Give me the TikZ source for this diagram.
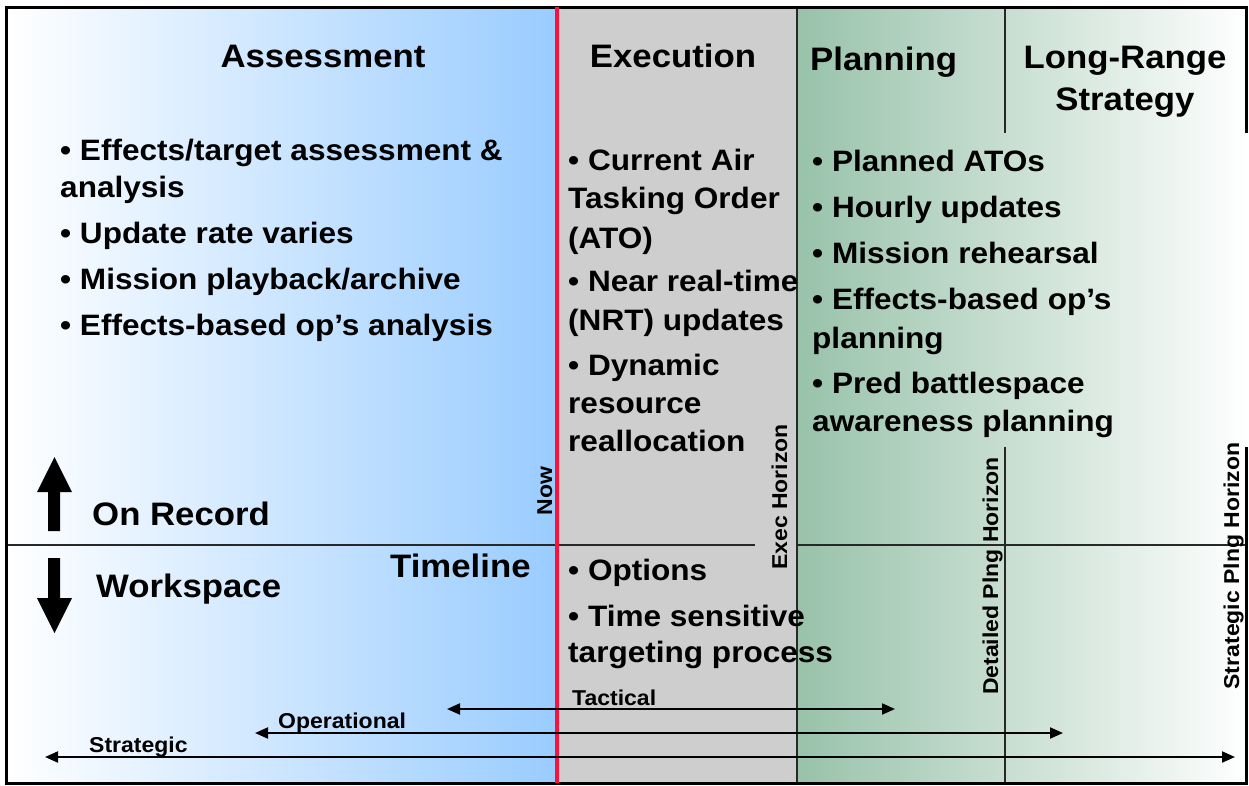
\documentclass[tikz,border=0pt]{standalone}
\usepackage{fontspec}
\setmainfont{Liberation Sans}[FakeStretch=1.07]
\usetikzlibrary{arrows.meta}
\definecolor{assblue}{RGB}{153,204,255}
\definecolor{execgray}{RGB}{206,206,206}
\definecolor{plangreen}{RGB}{152,194,170}
\definecolor{nowred}{RGB}{250,18,60}
\definecolor{linedark}{RGB}{40,40,40}
\tikzset{
  ttl/.style={font=\fontsize{32.5}{36}\selectfont\bfseries, inner sep=0pt},
  bul/.style={font=\fontsize{29.5}{34}\selectfont\bfseries, inner sep=0pt, anchor=base west},
  sml/.style={font=\fontsize{21.5}{24}\selectfont\bfseries, inner sep=0pt},
  vlab/.style={sml, rotate=90, anchor=base},
  rule/.style={draw=linedark, line width=1.8pt},
  frame/.style={draw=black, line width=3pt},
  span/.style={draw=black, line width=2pt, {Triangle[length=13pt,width=11pt]}-{Triangle[length=13pt,width=11pt]}},
}
\begin{document}
\begin{tikzpicture}[x=1pt,y=-1pt]
\useasboundingbox (0,0) rectangle (1249,785);
% backgrounds
\shade[left color=white, right color=assblue] (6,8) rectangle (557,783);
\fill[execgray] (557,8) rectangle (797,783);
\shade[left color=plangreen, right color=white] (797,8) rectangle (1249,783);
% dividing lines
\draw[rule] (797,8) -- (797,783);
\draw[rule] (1005,8) -- (1005,133);
\draw[rule] (1005,447) -- (1005,783);
\draw[rule] (6,545) -- (755,545);
\draw[rule] (797,545) -- (1246,545);
% frame
\draw[frame] (4.5,7) -- (1248,7);
\draw[frame] (6,7) -- (6,784);
\draw[frame] (4.5,783.5) -- (1248,783.5);
\draw[frame] (1246.5,7) -- (1246.5,133);
\draw[frame] (1246.5,447) -- (1246.5,784);
% now line
\draw[draw=nowred, line width=4pt] (557,7) -- (557,783);
% titles
\node[ttl, anchor=base] (tAss) at (323,67) {Assessment};
\node[ttl, anchor=base] (tExe) at (673,67) {Execution};
\node[ttl, anchor=base west] (tPla) at (810,70) {Planning};
\node[ttl, anchor=base] (tLR1) at (1125,68) {Long-Range};
\node[ttl, anchor=base] (tLR2) at (1125,110) {Strategy};
% assessment bullets
\node[bul] (a1) at (60,160) {• Effects/target assessment \&};
\node[bul] (a2) at (60,197) {analysis};
\node[bul] (a3) at (60,243) {• Update rate varies};
\node[bul] (a4) at (60,289) {• Mission playback/archive};
\node[bul] (a5) at (60,335) {• Effects-based op’s analysis};
% execution bullets
\node[bul] (e1) at (568,170) {• Current Air};
\node[bul] (e2) at (568,208) {Tasking Order};
\node[bul] (e3) at (568,248) {(ATO)};
\node[bul] (e4) at (568,291) {• Near real-time};
\node[bul] (e5) at (568,330) {(NRT) updates};
\node[bul] (e6) at (568,375) {• Dynamic};
\node[bul] (e7) at (568,413) {resource};
\node[bul] (e8) at (568,451) {reallocation};
\node[bul] (e9) at (568,580) {• Options};
\node[bul] (e10) at (568,626) {• Time sensitive};
\node[bul] (e11) at (568,662) {targeting process};
% planning bullets
\node[bul] (p1) at (812,171) {• Planned ATOs};
\node[bul] (p2) at (812,217) {• Hourly updates};
\node[bul] (p3) at (812,263) {• Mission rehearsal};
\node[bul] (p4) at (812,309) {• Effects-based op’s};
\node[bul] (p5) at (812,348) {planning};
\node[bul] (p6) at (812,393) {• Pred battlespace};
\node[bul] (p7) at (812,431) {awareness planning};
% record / workspace
\fill[black] (48,531) -- (48,492) -- (37,492) -- (54.5,457) -- (72,492) -- (60,492) -- (60,531) -- cycle;
\fill[black] (48,558) -- (48,598) -- (37,598) -- (54.5,633) -- (72,598) -- (60,598) -- (60,558) -- cycle;
\node[ttl, anchor=base west] (rec) at (92,525) {On Record};
\node[ttl, anchor=base west] (wsp) at (96,597) {Workspace};
\node[ttl, anchor=base west] (tml) at (390,577) {Timeline};
% horizon labels
\node[vlab] (now) at (552,491) {Now};
\node[vlab] (exh) at (787,497) {Exec Horizon};
\node[vlab] (dph) at (998,576) {Detailed Plng Horizon};
\node[vlab] (sph) at (1239,566) {Strategic Plng Horizon};
% spans
\coordinate (tacL) at (447,709);
\coordinate (tacR) at (895,709);
\coordinate (opL) at (255,733);
\coordinate (opR) at (1063,733);
\coordinate (strL) at (45,757);
\coordinate (strR) at (1235,757);
\draw[span] (tacL) -- (tacR);
\draw[span] (opL) -- (opR);
\draw[span] (strL) -- (strR);
\node[sml, anchor=base west] (ltac) at (572,705) {Tactical};
\node[sml, anchor=base west] (lop) at (278,728) {Operational};
\node[sml, anchor=base west] (lstr) at (89,752) {Strategic};
\end{tikzpicture}
\end{document}
